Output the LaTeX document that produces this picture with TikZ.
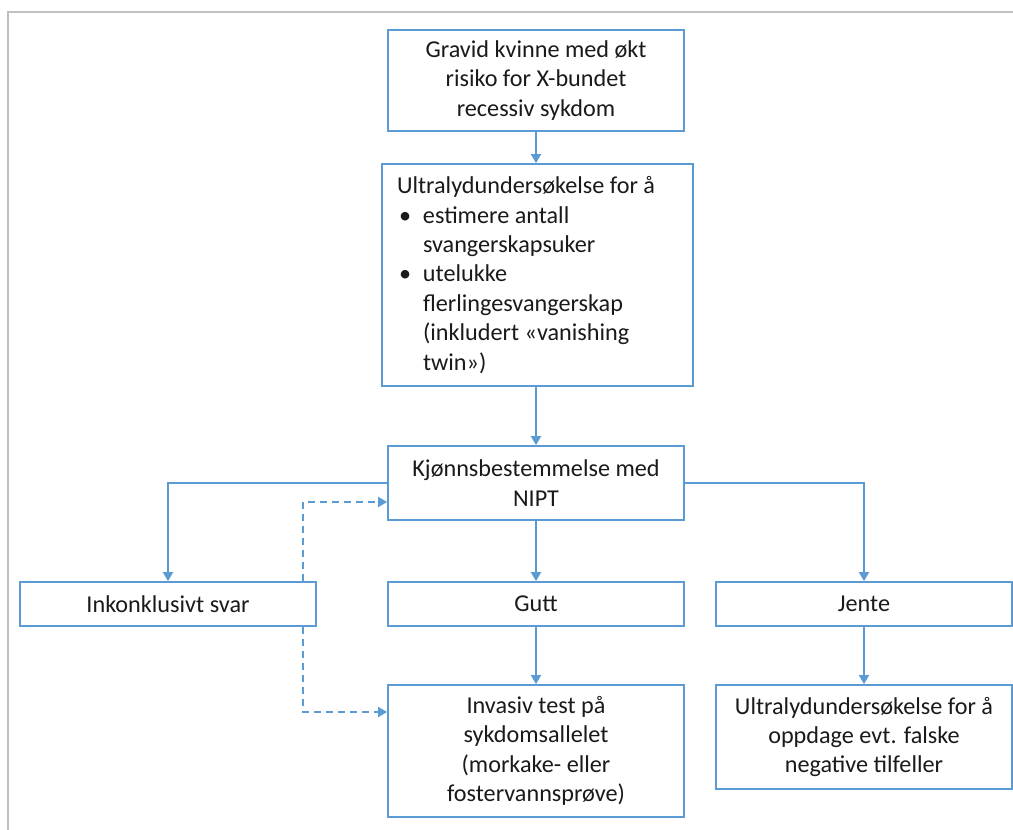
\documentclass[tikz,border=0pt]{standalone}
\usepackage{fontspec}
\setmainfont{Carlito}
\usetikzlibrary{arrows.meta,calc}
\definecolor{lineblue}{HTML}{5B9BD5}
\definecolor{framegray}{HTML}{C0C0C0}
\definecolor{txt}{HTML}{1A1A1A}
\begin{document}
\begin{tikzpicture}[x=1pt,y=-1pt,
  box/.style={draw=lineblue, line width=1.8pt, fill=white, inner sep=0pt,
    text=txt, font=\fontsize{24.2}{29.4}\selectfont, align=center},
  conn/.style={draw=lineblue, line width=1.8pt, -{Triangle[length=9pt,width=10pt]}},
  dconn/.style={conn, dash pattern=on 7pt off 5pt}]
\useasboundingbox (0,0) rectangle (1013,830);
\draw[framegray, line width=1.5pt] (1013,12) -- (8,12) -- (8,830);
\node[box, minimum width=296pt, minimum height=101pt] (b1) at (536,80.5)
  {Gravid kvinne med økt\\risiko for X-bundet\\recessiv sykdom};
\node[box, minimum width=311pt, minimum height=222pt, align=left] (b2) at (537.5,275)
  {\parbox{281pt}{\raggedright Ultralydundersøkelse for å\\
   \makebox[26pt][l]{\hspace*{2pt}\textbullet}estimere antall\\
   \hspace*{26pt}svangerskapsuker\\
   \makebox[26pt][l]{\hspace*{2pt}\textbullet}utelukke\\
   \hspace*{26pt}flerlingesvangerskap\\
   \hspace*{26pt}(inkludert «vanishing\\
   \hspace*{26pt}twin»)}};
\node[box, minimum width=296pt, minimum height=74pt] (b3) at (536,483)
  {Kjønnsbestemmelse med\\NIPT};
\node[box, minimum width=296pt, minimum height=44pt] (b4) at (168,604) {Inkonklusivt svar};
\node[box, minimum width=296pt, minimum height=44pt] (b5) at (536,604) {Gutt};
\node[box, minimum width=296pt, minimum height=44pt] (b6) at (864,604) {Jente};
\node[box, minimum width=296pt, minimum height=132pt] (b7) at (536,751)
  {Invasiv test på\\sykdomsallelet\\(morkake- eller\\fostervannsprøve)};
\node[box, minimum width=296pt, minimum height=104pt] (b8) at (864,737)
  {Ultralydundersøkelse for å\\oppdage evt. falske\\negative tilfeller};
\coordinate (dx) at (303,0);
\draw[conn] (b1.south) -- (b1.south |- b2.north);
\draw[conn] (b2.south -| b1.south) -- (b3.north);
\draw[conn] (b3.west) -| (b4.north);
\draw[conn] (b3.east) -| (b6.north);
\draw[conn] (b3.south) -- (b5.north);
\draw[conn] (b5.south) -- (b7.north);
\draw[conn] (b6.south) -- (b8.north);
\draw[dconn] (b4.north -| dx) |- ([yshift=-19pt]b3.west);
\draw[dconn] (b4.south -| dx) |- ([yshift=39pt]b7.west);
\end{tikzpicture}
\end{document}
